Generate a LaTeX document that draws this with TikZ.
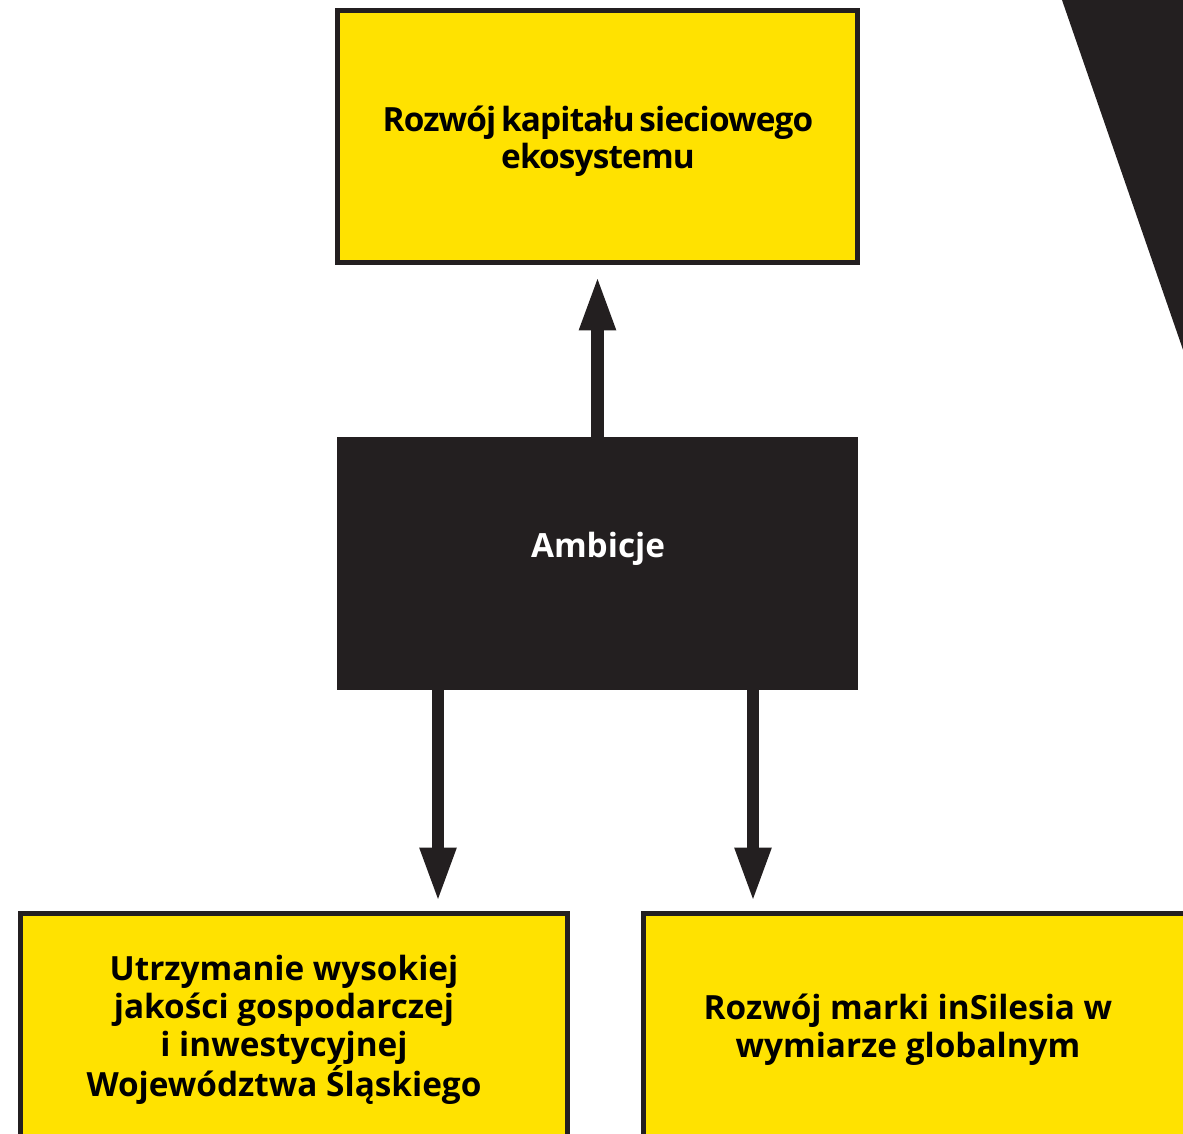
\documentclass[tikz,border=0pt]{standalone}
\usepackage{fontspec}
\setmainfont{Open Sans}
\newfontfamily\tightfont{Open Sans}[LetterSpace=-2.5]
\newcommand\topfontsetup{\tightfont\bfseries\fontsize{25}{27.75}\selectfont\spaceskip=0.14em\relax}
\usetikzlibrary{arrows.meta}
\definecolor{ink}{HTML}{231F20}
\definecolor{sun}{HTML}{FFE200}
\begin{document}
\begin{tikzpicture}[x=0.75pt,y=-0.75pt,
  ybox/.style={draw=ink, line width=3.75pt, fill=sun, inner sep=0pt, anchor=center},
  lbl/.style={font=\bfseries\fontsize{25}{28.5}\selectfont, text=black, align=center, inner sep=0pt},
  arr/.style={draw=ink, line width=9.3pt, -{Triangle[width=28.3pt,length=38.5pt,line width=0pt]}}]
\useasboundingbox (0,0) rectangle (1183,1133);
\clip (0,0) rectangle (1183,1133);
\fill[ink] (1062,0) -- (1190,0) -- (1190,370) -- cycle;
\node[ybox, minimum width=390pt, minimum height=189pt] (top) at (597.5,136.5) {};
\node[lbl, font=\topfontsetup] (toptext) at (598,141) {Rozwój kapitału sieciowego\\ekosystemu};
\node[fill=ink, inner sep=0pt, minimum width=390.75pt, minimum height=189.75pt] (amb) at (597.5,563.5) {};
\node[lbl, text=white] (ambtext) at (598,549) {Ambicje};
\node[ybox, minimum width=410.25pt, minimum height=215pt] (bl) at (294,1056.75) {};
\node[ybox, minimum width=450pt, minimum height=215pt] (br) at (643.5+300,1056.75) {};
\node[lbl] (bltext) at (284,1030) {Utrzymanie wysokiej\\jakości gospodarczej\\i inwestycyjnej\\Województwa Śląskiego};
\node[lbl] (brtext) at (908,1030) {Rozwój marki inSilesia w\\wymiarze globalnym};
\coordinate (xl) at (438,0);
\coordinate (xr) at (753,0);
\draw[arr, shorten >=10.5pt] (amb.north) -- (top.south);
\draw[arr, shorten >=9pt] (amb.south -| xl) -- (bl.north -| xl);
\draw[arr, shorten >=9pt] (amb.south -| xr) -- (br.north -| xr);
\end{tikzpicture}
\end{document}
